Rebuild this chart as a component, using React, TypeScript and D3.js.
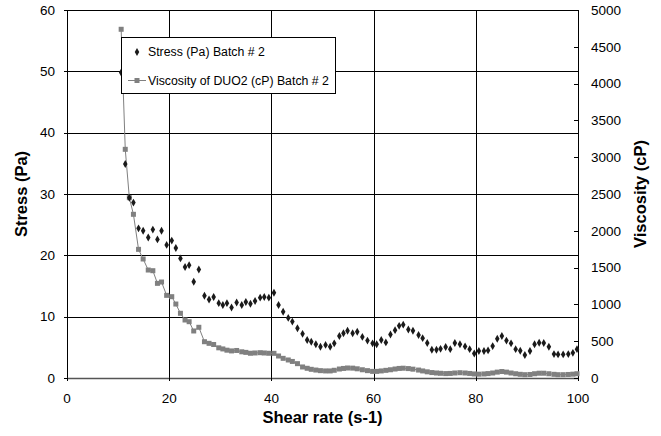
import React from "react";
import * as d3 from "d3";

const shearRate = [10.6, 11.4, 12.2, 13.0, 14.0, 14.9, 15.9, 16.8, 17.7, 18.5, 19.5, 20.5, 21.3, 22.2, 23.1, 23.9, 24.8, 25.8, 26.9, 27.8, 28.7, 29.7, 30.5, 31.3, 32.2, 33.2, 34.2, 35.0, 35.9, 36.8, 37.8, 38.6, 39.5, 40.5, 41.4, 42.3, 43.3, 44.1, 45.1, 46.1, 47.0, 47.8, 48.7, 49.6, 50.6, 51.5, 52.3, 53.3, 54.1, 54.9, 55.9, 56.8, 57.8, 58.8, 59.8, 60.6, 61.5, 62.4, 63.3, 64.2, 65.0, 65.8, 66.8, 67.7, 68.8, 69.6, 70.5, 71.4, 72.3, 73.1, 74.1, 75.0, 75.9, 76.9, 77.9, 78.8, 79.7, 80.6, 81.6, 82.4, 83.3, 84.2, 85.1, 86.0, 86.9, 87.8, 88.7, 89.6, 90.6, 91.5, 92.4, 93.3, 94.3, 95.3, 96.1, 97.1, 98.1, 99.0, 99.8];

const stressPa = [49.8, 34.9, 29.4, 28.6, 24.4, 24.0, 22.9, 24.2, 22.6, 24.0, 21.7, 22.4, 21.2, 19.5, 18.1, 18.4, 15.7, 17.7, 13.4, 12.8, 13.2, 12.2, 11.9, 12.2, 11.5, 12.3, 11.9, 12.4, 12.1, 12.55, 13.1, 13.2, 13.1, 13.9, 11.9, 10.8, 9.8, 9.2, 8.1, 7.2, 6.2, 5.9, 5.5, 5.1, 5.4, 5.1, 5.65, 6.85, 7.3, 7.7, 7.3, 7.55, 6.7, 6.1, 5.65, 5.5, 6.2, 5.8, 7.1, 7.8, 8.5, 8.7, 7.9, 7.7, 7.0, 6.5, 5.7, 4.6, 4.6, 4.75, 5.05, 4.7, 5.7, 5.5, 5.15, 4.7, 4.0, 4.4, 4.4, 4.5, 5.2, 6.4, 6.85, 6.1, 5.65, 4.7, 4.45, 3.75, 4.4, 5.5, 5.75, 5.7, 5.1, 3.9, 3.85, 3.85, 3.9, 4.1, 4.7];

const viscosityCp = [4738, 3107, 2450, 2224, 1748, 1617, 1467, 1458, 1286, 1304, 1123, 1105, 1005, 879, 788, 765, 639, 689, 493, 471, 455, 410, 395, 378, 368, 374, 356, 348, 336, 340, 344, 340, 336, 335, 299, 267, 245, 225, 195, 150, 132, 118, 108, 100, 96, 96, 105, 122, 130, 136, 134, 125, 112, 100, 90, 90, 96, 104, 112, 122, 130, 133, 128, 120, 108, 96, 84, 74, 68, 64, 60, 62, 68, 72, 68, 62, 55, 52, 55, 60, 68, 80, 88, 80, 68, 58, 50, 45, 48, 58, 65, 65, 58, 50, 45, 45, 48, 52, 58];

const xTicks = [0, 20, 40, 60, 80, 100];
const leftTicks = [0, 10, 20, 30, 40, 50, 60];
const rightTicks = [0, 500, 1000, 1500, 2000, 2500, 3000, 3500, 4000, 4500, 5000];

const stressLabel = "Stress (Pa) Batch # 2";
const viscLabel = "Viscosity of DUO2 (cP) Batch # 2";

export default function App() {
  const W = 661, H = 436;
  const left = 67, right = 578, top = 10, bottom = 378;
  const x = d3.scaleLinear().domain([0, 100]).range([left, right]);
  const yL = d3.scaleLinear().domain([0, 60]).range([bottom, top]);
  const yR = d3.scaleLinear().domain([0, 5000]).range([bottom, top]);
  const font = "Arial, 'Liberation Sans', sans-serif";
  const px = (v: number) => Math.round(v) + 0.5;

  const viscLine = d3.line<number>()
    .x((_, i) => x(shearRate[i]))
    .y((d) => yR(d))(viscosityCp) || "";

  const diamond = d3.symbol().type(d3.symbolDiamond).size(18)() || "";

  return (
    <svg width={W} height={H} style={{ position: "absolute", left: 0, top: 0, background: "#fff" }} fontFamily={font}>
      <rect x={0} y={0} width={W} height={H} fill="#fff" />
      {leftTicks.map((t) => (
        <line key={"h" + t} x1={left} x2={right} y1={px(yL(t))} y2={px(yL(t))} stroke="#000" strokeWidth={1} />
      ))}
      {xTicks.map((t) => (
        <line key={"v" + t} x1={px(x(t))} x2={px(x(t))} y1={top} y2={bottom} stroke="#000" strokeWidth={1} />
      ))}
      <line x1={px(left)} x2={px(left)} y1={top} y2={bottom} stroke="#000" />
      <line x1={px(right)} x2={px(right)} y1={top} y2={bottom} stroke="#000" />
      <line x1={left} x2={right} y1={px(bottom)} y2={px(bottom)} stroke="#555" strokeWidth={1.5} />
      {leftTicks.map((t) => (
        <line key={"lt" + t} x1={left - 3} x2={left} y1={px(yL(t))} y2={px(yL(t))} stroke="#000" />
      ))}
      {rightTicks.map((t) => (
        <line key={"rt" + t} x1={right - 4} x2={right} y1={px(yR(t))} y2={px(yR(t))} stroke="#000" />
      ))}
      {xTicks.map((t) => (
        <line key={"bt" + t} x1={px(x(t))} x2={px(x(t))} y1={bottom} y2={bottom + 3} stroke="#000" />
      ))}
      {leftTicks.map((t) => (
        <text key={"ll" + t} x={55} y={yL(t)} dy="0.35em" textAnchor="end" fontSize={13.5} fill="#000">{t}</text>
      ))}
      {rightTicks.map((t) => (
        <text key={"rl" + t} x={591} y={yR(t)} dy="0.35em" textAnchor="start" fontSize={13.5} fill="#000">{t}</text>
      ))}
      {xTicks.map((t) => (
        <text key={"xl" + t} x={x(t)} y={398} dy="0.35em" textAnchor="middle" fontSize={13.5} fill="#000">{t}</text>
      ))}
      <text x={(left + right) / 2} y={417} dy="0.35em" textAnchor="middle" fontSize={16.5} fontWeight="bold">Shear rate (s-1)</text>
      <text transform={`translate(21,${(top + bottom) / 2}) rotate(-90)`} dy="0.35em" textAnchor="middle" fontSize={16.5} fontWeight="bold">Stress (Pa)</text>
      <text transform={`translate(640,${(top + bottom) / 2}) rotate(-90)`} dy="0.35em" textAnchor="middle" fontSize={16.5} fontWeight="bold">Viscosity (cP)</text>
      <path d={viscLine} fill="none" stroke="#808080" strokeWidth={1} />
      {viscosityCp.map((v, i) => (
        <rect key={"vs" + i} x={x(shearRate[i]) - 2.5} y={yR(v) - 2.5} width={5} height={5} fill="#808080" />
      ))}
      {stressPa.map((s, i) => (
        <path key={"st" + i} d={diamond} transform={`translate(${x(shearRate[i])},${yL(s)})`} fill="#1a1a1a" />
      ))}
      <rect x={121.5} y={37.5} width={214} height={56} fill="#fff" stroke="#000" strokeWidth={1} />
      <path d={diamond} transform="translate(137,52)" fill="#1a1a1a" />
      <text x={148} y={52} dy="0.35em" fontSize={12.3}>{stressLabel}</text>
      <line x1={128} x2={146} y1={80.5} y2={80.5} stroke="#808080" />
      <rect x={134.5} y={78} width={5} height={5} fill="#808080" />
      <text x={148} y={80.5} dy="0.35em" fontSize={12.3}>{viscLabel}</text>
    </svg>
  );
}
